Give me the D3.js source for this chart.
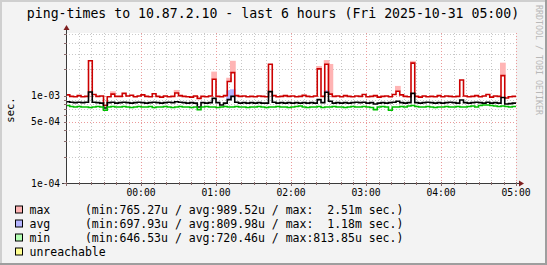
<!DOCTYPE html>
<html lang="en">
<head>
  <meta charset="UTF-8">
  <title>ping-times</title>
  <script src="https://d3js.org/d3.v7.min.js"></script>
  <style>
    html, body { margin: 0; padding: 0; background: #f3f3f3; }
    text { font-family: "DejaVu Sans Mono", monospace; fill: #000; }
    .grid line { shape-rendering: crispEdges; }
  </style>
</head>
<body>
  <svg id="chart" width="547" height="265"></svg>
  <script>
    // chart data, values in milliseconds, one value per 3 minute step from 23:00
    const startTime = new Date(2025, 9, 30, 23, 0);
    const endTime = new Date(2025, 9, 31, 5, 0);
    const stepMinutes = 3;

    const maxValues = [
      1.02, 0.98, 0.97, 1.00, 0.97, 0.98, 2.50, 1.03, 0.98, 0.99,
      0.77, 0.97, 1.04, 0.98, 0.98, 1.06, 0.99, 1.01, 0.97, 0.99,
      1.02, 0.98, 0.97, 1.05, 0.98, 0.96, 0.99, 0.97, 0.98, 1.07,
      1.00, 0.98, 0.97, 0.96, 0.99, 0.93, 0.98, 0.97, 0.99, 1.54,
      0.98, 0.97, 1.00, 1.45, 1.83, 1.00, 0.98, 0.99, 0.97, 0.98,
      0.97, 0.99, 0.98, 0.97, 2.28, 1.00, 0.97, 0.98, 1.00, 0.98,
      0.99, 0.97, 0.98, 1.01, 0.98, 0.97, 0.99, 2.02, 0.98, 2.28,
      1.04, 0.98, 0.99, 0.97, 1.00, 0.98, 0.97, 0.99, 0.98, 1.03,
      0.97, 0.98, 1.00, 0.96, 0.98, 0.99, 0.97, 1.03, 1.12, 1.02,
      0.98, 0.97, 2.35, 0.98, 0.96, 0.99, 0.97, 0.98, 0.97, 1.00,
      0.97, 0.99, 0.98, 0.97, 0.98, 1.51, 0.99, 0.97, 0.98, 1.00,
      0.97, 0.99, 1.03, 0.96, 0.99, 0.98, 1.69, 0.94, 0.97, 0.98
    ];
    const avgValues = [
      0.85, 0.84, 0.83, 0.84, 0.83, 0.84, 1.10, 0.84, 0.83, 0.82,
      0.72, 0.83, 0.84, 0.82, 0.83, 0.84, 0.83, 0.82, 0.83, 0.84,
      0.83, 0.82, 0.83, 0.84, 0.83, 0.82, 0.83, 0.84, 0.83, 0.85,
      0.84, 0.83, 0.82, 0.83, 0.82, 0.74, 0.83, 0.82, 0.83, 0.93,
      0.83, 0.78, 0.82, 0.90, 0.98, 0.84, 0.82, 0.83, 0.82, 0.83,
      0.82, 0.83, 0.82, 0.82, 1.11, 0.84, 0.82, 0.83, 0.82, 0.83,
      0.82, 0.83, 0.82, 0.83, 0.82, 0.83, 0.82, 0.90, 0.83, 1.09,
      0.86, 0.82, 0.83, 0.82, 0.83, 0.82, 0.83, 0.84, 0.83, 0.84,
      0.82, 0.83, 0.80, 0.82, 0.83, 0.82, 0.83, 0.84, 0.86, 0.83,
      0.82, 0.83, 1.06, 0.83, 0.82, 0.83, 0.84, 0.83, 0.82, 0.83,
      0.82, 0.83, 0.84, 0.83, 0.82, 0.89, 0.83, 0.82, 0.83, 0.84,
      0.83, 0.82, 0.84, 0.82, 0.83, 0.82, 0.95, 0.80, 0.81, 0.82
    ];
    const minValues = [
      0.77, 0.75, 0.74, 0.75, 0.74, 0.74, 0.73, 0.74, 0.75, 0.74,
      0.68, 0.74, 0.75, 0.74, 0.74, 0.75, 0.74, 0.73, 0.74, 0.75,
      0.74, 0.74, 0.75, 0.73, 0.74, 0.74, 0.75, 0.74, 0.73, 0.74,
      0.75, 0.74, 0.74, 0.73, 0.74, 0.69, 0.74, 0.75, 0.74, 0.74,
      0.73, 0.74, 0.75, 0.74, 0.74, 0.75, 0.74, 0.74, 0.73, 0.74,
      0.74, 0.75, 0.74, 0.73, 0.74, 0.74, 0.75, 0.74, 0.74, 0.73,
      0.74, 0.75, 0.76, 0.74, 0.73, 0.74, 0.74, 0.75, 0.73, 0.74,
      0.74, 0.75, 0.74, 0.74, 0.73, 0.74, 0.75, 0.74, 0.74, 0.75,
      0.74, 0.73, 0.69, 0.74, 0.75, 0.74, 0.68, 0.74, 0.74, 0.75,
      0.74, 0.76, 0.77, 0.75, 0.74, 0.74, 0.75, 0.74, 0.73, 0.74,
      0.74, 0.75, 0.74, 0.74, 0.75, 0.74, 0.74, 0.75, 0.76, 0.74,
      0.77, 0.78, 0.78, 0.77, 0.76, 0.75, 0.76, 0.75, 0.74, 0.75
    ];
    // short peaks of the pale (MAX consolidated) series: [step index, value]
    const maxPeaks = [[6, 2.51], [12, 1.12], [29, 1.16], [39, 1.88], [43, 1.60], [44, 2.50],
                      [67, 2.18], [69, 2.55], [70, 2.30], [88, 1.29], [92, 2.50], [116, 2.38]];
    const avgPeaks = [[43, 1.15], [44, 1.18], [69, 1.15]];

    const hourTicks = ["00:00", "01:00", "02:00", "03:00", "04:00", "05:00"];
    const yTicks = [0.1, 0.5, 1];
    const yTickLabels = ["1e-04", "5e-04", "1e-03"];
    const yMinorTicks = [0.2, 0.3, 0.4, 0.6, 0.7, 0.8, 0.9, 2, 3, 4, 5];
    const yTop = 5.2;

    const legendNames = ["max", "avg", "min", "unreachable"];
    const legendStats = [
      "(min:765.27u / avg:989.52u / max:  2.51m sec.)",
      "(min:697.93u / avg:809.98u / max:  1.18m sec.)",
      "(min:646.53u / avg:720.46u / max:813.85u sec.)",
      ""
    ];
    const legendColors = ["#ffb4b4", "#b4b4ff", "#b4ffb4", "#ffff90"];

    const W = 547, H = 265;
    const plotL = 66, plotR = 516, plotT = 33, plotB = 183;

    const svg = d3.select("#chart");

    // frame
    svg.append("rect").attr("width", W).attr("height", H).attr("fill", "#f3f3f3");
    svg.append("rect").attr("x", 0).attr("y", 0).attr("width", W).attr("height", 2).attr("fill", "#cfcfcf");
    svg.append("rect").attr("x", 0).attr("y", 0).attr("width", 2).attr("height", H).attr("fill", "#cfcfcf");
    svg.append("rect").attr("x", 0).attr("y", H - 2).attr("width", W).attr("height", 2).attr("fill", "#9e9e9e");
    svg.append("rect").attr("x", W - 2).attr("y", 0).attr("width", 2).attr("height", H).attr("fill", "#9e9e9e");

    svg.append("rect").attr("x", plotL).attr("y", plotT)
      .attr("width", plotR - plotL).attr("height", plotB - plotT).attr("fill", "#fff");

    const x = d3.scaleTime().domain([startTime, endTime]).range([plotL, plotR]);
    const y = d3.scaleLog().domain([0.1, yTop]).range([plotB, plotT]);

    // grid
    const grid = svg.append("g").attr("class", "grid");
    const minorTimes = d3.timeMinute.every(10).range(startTime, d3.timeMinute.offset(endTime, 1));
    grid.selectAll(".vmin").data(minorTimes.filter(t => t.getMinutes() !== 0)).enter()
      .append("line")
      .attr("x1", d => Math.round(x(d)) + 0.5).attr("x2", d => Math.round(x(d)) + 0.5)
      .attr("y1", plotT).attr("y2", plotB)
      .attr("stroke", "#c8c8c8").attr("stroke-dasharray", "1,2");
    grid.selectAll(".hmin").data(yMinorTicks).enter()
      .append("line")
      .attr("x1", plotL).attr("x2", plotR)
      .attr("y1", d => Math.round(y(d)) + 0.5).attr("y2", d => Math.round(y(d)) + 0.5)
      .attr("stroke", "#c8c8c8").attr("stroke-dasharray", "1,2");
    const hourTimes = d3.timeHour.range(d3.timeMinute.offset(startTime, 1), d3.timeMinute.offset(endTime, 1));
    grid.selectAll(".vmaj").data(hourTimes).enter()
      .append("line")
      .attr("x1", d => Math.round(x(d)) + 0.5).attr("x2", d => Math.round(x(d)) + 0.5)
      .attr("y1", plotT).attr("y2", plotB)
      .attr("stroke", "#eb9a9a").attr("stroke-dasharray", "1,2");
    grid.selectAll(".hmaj").data(yTicks.slice(1)).enter()
      .append("line")
      .attr("x1", plotL).attr("x2", plotR)
      .attr("y1", d => Math.round(y(d)) + 0.5).attr("y2", d => Math.round(y(d)) + 0.5)
      .attr("stroke", "#eb9a9a").attr("stroke-dasharray", "1,2");

    const stepTime = i => d3.timeMinute.offset(startTime, i * stepMinutes);
    const toPoints = vals => vals.map((v, i) => [stepTime(i), v]).concat([[endTime, vals[vals.length - 1]]]);
    const line = d3.line().x(d => x(d[0])).y(d => y(d[1])).curve(d3.curveStepAfter);

    // pale peaks behind the lines
    function peaks(list, base, color) {
      svg.append("g").selectAll("rect").data(list).enter().append("rect")
        .attr("x", d => x(stepTime(d[0])) - 1)
        .attr("width", d => x(stepTime(d[0] + 1)) - x(stepTime(d[0])) + 2)
        .attr("y", d => y(d[1]))
        .attr("height", d => Math.max(0, y(base[d[0]]) - y(d[1])))
        .attr("fill", color);
    }
    peaks(maxPeaks, maxValues, "#ffb4b4");
    peaks(avgPeaks, avgValues, "#b4b4ff");

    const series = [[maxValues, "#cc0000"], [avgValues, "#000000"], [minValues, "#00c000"]];
    svg.append("g").selectAll("path").data(series).enter().append("path")
      .attr("d", d => line(toPoints(d[0])))
      .attr("fill", "none")
      .attr("stroke", d => d[1])
      .attr("stroke-width", 1.6);

    // axes
    const axisColor = "#3a3a3a", arrowColor = "#7f1f1f";
    svg.append("line").attr("x1", plotL - 4).attr("x2", plotR + 4)
      .attr("y1", plotB + 0.5).attr("y2", plotB + 0.5).attr("stroke", axisColor);
    svg.append("line").attr("x1", plotL + 0.5).attr("x2", plotL + 0.5)
      .attr("y1", plotB + 3).attr("y2", plotT - 4).attr("stroke", axisColor);
    svg.append("path").attr("d", `M${plotR + 3},${plotB - 2.5}L${plotR + 8},${plotB + 0.5}L${plotR + 3},${plotB + 3.5}Z`)
      .attr("fill", arrowColor);
    svg.append("path").attr("d", `M${plotL - 2.5},${plotT - 3}L${plotL + 0.5},${plotT - 8}L${plotL + 3.5},${plotT - 3}Z`)
      .attr("fill", arrowColor);

    // x ticks
    svg.append("g").selectAll("line").data(minorTimes).enter().append("line")
      .attr("x1", d => Math.round(x(d)) + 0.5).attr("x2", d => Math.round(x(d)) + 0.5)
      .attr("y1", plotB - 1).attr("y2", d => d.getMinutes() === 0 ? plotB + 3 : plotB + 2)
      .attr("stroke", "#8a6a6a");
    svg.append("g").selectAll("text").data(hourTimes).enter().append("text")
      .attr("x", d => x(d)).attr("y", 196)
      .attr("text-anchor", "middle").attr("font-size", "9.7px")
      .text((d, i) => hourTicks[i]);

    // y ticks
    svg.append("g").selectAll("line").data(yTicks.concat(yMinorTicks)).enter().append("line")
      .attr("x1", plotL - 2).attr("x2", plotL + 1)
      .attr("y1", d => Math.round(y(d)) + 0.5).attr("y2", d => Math.round(y(d)) + 0.5)
      .attr("stroke", "#8a6a6a");
    svg.append("g").selectAll("text").data(yTicks).enter().append("text")
      .attr("x", 60).attr("y", d => y(d) + 3.5)
      .attr("text-anchor", "end").attr("font-size", "9.6px")
      .text((d, i) => yTickLabels[i]);

    svg.append("text").attr("transform", "translate(14,110) rotate(-90)")
      .attr("text-anchor", "middle").attr("font-size", "10.5px").text("sec.");

    // title and watermark
    svg.append("text").attr("x", 273).attr("y", 18).attr("text-anchor", "middle")
      .attr("font-size", "13.2px").text("ping-times to 10.87.2.10 - last 6 hours (Fri 2025-10-31 05:00)");
    svg.append("text").attr("transform", "translate(536,5) rotate(90)")
      .attr("font-size", "8.3px").style("fill", "#b8b8b8").text("RRDTOOL / TOBI OETIKER");

    // legend
    const lg = svg.append("g").selectAll("g").data(legendNames).enter().append("g")
      .attr("transform", (d, i) => `translate(0,${209.5 + i * 14})`);
    lg.append("rect").attr("x", 15.5).attr("y", -3.5).attr("width", 7).attr("height", 7)
      .attr("fill", (d, i) => legendColors[i]).attr("stroke", "#000");
    lg.append("text").attr("x", 29.5).attr("y", 4).attr("font-size", "11.5px")
      .attr("xml:space", "preserve").style("white-space", "pre")
      .text((d, i) => legendStats[i] ? d.padEnd(8, " ") + legendStats[i] : d);
  </script>
</body>
</html>
